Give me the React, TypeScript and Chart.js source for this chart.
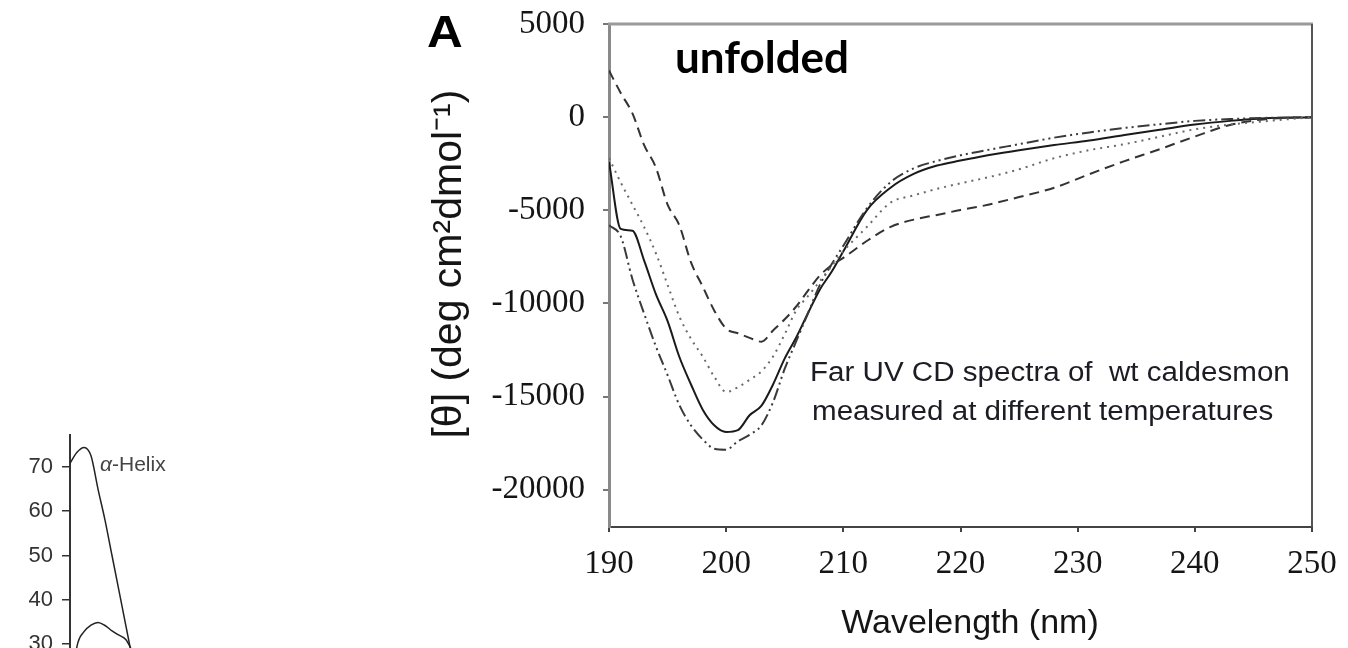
import React, { useEffect, useRef } from "react";
import { Chart, registerables } from "chart.js";

Chart.register(...registerables);

// ---------- Main chart (A) data ----------
const WAVELENGTHS = [
  190, 191, 192, 193, 194, 195, 196, 197, 198, 199, 200, 201, 202, 203, 204, 205, 206, 207, 208, 209, 210,
  212, 214, 216, 218, 220, 222, 225, 228, 231, 234, 237, 240, 243, 246, 250,
];

const THETA_DASHED = [
  2500, 1300, 200, -1500, -2700, -4700, -5800, -7800, -9100, -10400, -11350, -11600, -11850, -12050, -11450,
  -10850, -10150, -9300, -8500, -7950, -7550, -6650, -5900, -5500, -5250, -4980, -4750, -4290, -3790, -3060,
  -2360, -1720, -1040, -420, -110, 0,
];

const THETA_SOLID = [
  -2400, -6000, -6100, -7700, -9500, -10950, -12860, -14350, -15700, -16550, -16900, -16800, -16000, -15500,
  -14350, -12950, -11800, -10500, -9250, -8300, -7200, -5000, -3800, -3050, -2600, -2330, -2080, -1780, -1500,
  -1250, -960, -680, -400, -200, -60, 0,
];

const THETA_DOTTED = [
  -2200, -3500, -4700, -5900, -7300, -9000, -10700, -11900, -12850, -13950, -14750, -14500, -14100, -13650,
  -12850, -11650, -10350, -9600, -8800, -8000, -7200, -5900, -4600, -4200, -3850, -3550, -3280, -2800, -2200,
  -1770, -1450, -1050, -650, -400, -220, 0,
];

const THETA_DASHDOT = [
  -5800, -6400, -8700, -10550, -12300, -13850, -15450, -16550, -17300, -17800, -17850, -17400, -17050, -16550,
  -15300, -13500, -12000, -10500, -9000, -7900, -6900, -4900, -3500, -2750, -2350, -2050, -1800, -1450, -1100,
  -820, -580, -380, -200, -100, -40, 0,
];

const X_TICKS = [190, 200, 210, 220, 230, 240, 250];
const Y_TICKS = [5000, 0, -5000, -10000, -15000, -20000];
const Y_MIN = -22000;
const Y_MAX = 5000;

const PANEL_LABEL = "A";
const STATE_LABEL = "unfolded";
const NOTE_LINES = ["Far UV CD spectra of  wt caldesmon", "measured at different temperatures"];

// ---------- Left (partial) reference chart data ----------
const LEFT_WAVELENGTHS = [190, 191, 192, 193, 194, 195, 196, 197, 198, 199, 200];
const LEFT_HELIX = [70.8, 73.3, 74.4, 72.5, 65, 58, 50, 42, 34, 26, 18];
const LEFT_SECOND = [18, 29.5, 32.8, 34.3, 34.9, 34.2, 33, 32, 31, 28, 24];
const LEFT_Y_TICKS = [0, 10, 20, 30, 40, 50, 60, 70];

const toPoints = (xs: number[], ys: number[]) => xs.map((x, i) => ({ x, y: ys[i] }));

const clearScalePadding = (s: any) => {
  s.paddingTop = 0;
  s.paddingBottom = 0;
  s.paddingLeft = 0;
  s.paddingRight = 0;
};

export default function App() {
  const mainRef = useRef<HTMLCanvasElement | null>(null);
  const leftRef = useRef<HTMLCanvasElement | null>(null);

  useEffect(() => {
    const framePlugin = {
      id: "frame",
      afterDraw(chart: any) {
        const { ctx, chartArea } = chart;
        const { left, top, right, bottom } = chartArea;
        ctx.save();
        ctx.strokeStyle = "#9a9a9a";
        ctx.lineWidth = 3;
        ctx.beginPath();
        ctx.moveTo(left - 1, top);
        ctx.lineTo(right + 1, top);
        ctx.stroke();
        ctx.strokeStyle = "#555";
        ctx.lineWidth = 2;
        ctx.beginPath();
        ctx.moveTo(right, top);
        ctx.lineTo(right, bottom);
        ctx.stroke();
        ctx.restore();
      },
    };

    const textPlugin = {
      id: "texts",
      afterDraw(chart: any) {
        const { ctx } = chart;
        ctx.save();
        ctx.fillStyle = "#000";
        ctx.textBaseline = "alphabetic";
        ctx.textAlign = "left";
        ctx.save();
        ctx.translate(427, 47);
        ctx.scale(1.1, 1);
        ctx.font = "bold 45px 'Liberation Sans', Arial, sans-serif";
        ctx.fillText(PANEL_LABEL, 0, 0);
        ctx.restore();
        ctx.font = "bold 44px Lato, 'Liberation Sans', sans-serif";
        ctx.fillText(STATE_LABEL, 675, 73);
        ctx.fillStyle = "#1c1c24";
        ctx.font = "27px 'Liberation Sans', Arial, sans-serif";
        const baselines = [381, 420];
        const lefts = [810, 812];
        NOTE_LINES.forEach((line, i) => {
          ctx.save();
          ctx.translate(lefts[i], baselines[i]);
          ctx.scale(1.095, 1);
          ctx.fillText(line, 0, 0);
          ctx.restore();
        });
        ctx.restore();
      },
    };

    const main = new Chart(mainRef.current as HTMLCanvasElement, {
      type: "line",
      data: {
        datasets: [
          {
            label: "dotted",
            data: toPoints(WAVELENGTHS, THETA_DOTTED),
            borderColor: "#6a6a6a",
            borderWidth: 2,
            borderDash: [2, 5],
            cubicInterpolationMode: "monotone",
          },
          {
            label: "dashed",
            data: toPoints(WAVELENGTHS, THETA_DASHED),
            borderColor: "#333",
            borderWidth: 2,
            borderDash: [10, 6],
            cubicInterpolationMode: "monotone",
          },
          {
            label: "dash-dot",
            data: toPoints(WAVELENGTHS, THETA_DASHDOT),
            borderColor: "#3a3a3a",
            borderWidth: 2,
            borderDash: [12, 4, 2, 4, 2, 4],
            cubicInterpolationMode: "monotone",
          },
          {
            label: "solid",
            data: toPoints(WAVELENGTHS, THETA_SOLID),
            borderColor: "#1a1a1a",
            borderWidth: 2,
            cubicInterpolationMode: "monotone",
          },
        ],
      },
      options: {
        responsive: false,
        animation: false,
        layout: { padding: { left: 400, top: 24, right: 36, bottom: 0 } },
        plugins: { legend: { display: false }, tooltip: { enabled: false } },
        elements: { point: { radius: 0 } },
        scales: {
          x: {
            type: "linear",
            min: 190,
            max: 250,
            afterBuildTicks: (s: any) => {
              s.ticks = X_TICKS.map((v) => ({ value: v }));
            },
            afterFit: (s: any) => {
              s.height = 121;
              clearScalePadding(s);
            },
            grid: { drawOnChartArea: false, drawTicks: true, tickLength: 5, color: "#444", lineWidth: 2 },
            border: { display: true, color: "#444", width: 2 },
            ticks: {
              font: { family: "'Liberation Serif', 'Times New Roman', serif", size: 33 },
              color: "#151515",
              padding: 13,
              maxRotation: 0,
              autoSkip: false,
              callback: (v: any) => String(v),
            },
            title: {
              display: true,
              text: "  Wavelength (nm)",
              font: { family: "'Liberation Sans', Arial, sans-serif", size: 34 },
              color: "#151515",
              padding: { top: 0, bottom: 4 },
            },
          },
          y: {
            type: "linear",
            min: Y_MIN,
            max: Y_MAX,
            afterBuildTicks: (s: any) => {
              s.ticks = Y_TICKS.map((v) => ({ value: v }));
            },
            afterFit: (s: any) => {
              s.width = 209;
              clearScalePadding(s);
            },
            grid: { drawOnChartArea: false, drawTicks: true, tickLength: 6, color: "#777", lineWidth: 2 },
            border: { display: true, color: "#8a8a8a", width: 3 },
            ticks: {
              font: { family: "'Liberation Serif', 'Times New Roman', serif", size: 33 },
              color: "#151515",
              padding: 18,
              autoSkip: false,
              callback: (v: any) => String(v),
            },
            title: {
              display: true,
              text: "  [θ] (deg cm\u00B2dmol\u207B\u00B9)",
              font: { family: "'Liberation Sans', Arial, sans-serif", size: 41 },
              color: "#151515",
              padding: { top: 25, bottom: 0 },
            },
          },
        },
      },
      plugins: [framePlugin, textPlugin],
    } as any);

    const leftTextPlugin = {
      id: "leftTexts",
      afterDraw(chart: any) {
        const { ctx } = chart;
        ctx.save();
        ctx.fillStyle = "#444";
        ctx.textBaseline = "middle";
        ctx.textAlign = "left";
        ctx.font = "italic 21px 'Liberation Sans', Arial, sans-serif";
        const alpha = "\u03B1";
        ctx.fillText(alpha, 100, 465);
        const w = ctx.measureText(alpha).width;
        ctx.font = "21px 'Liberation Sans', Arial, sans-serif";
        ctx.fillText("-Helix", 100 + w, 465);
        ctx.restore();
      },
    };

    const left = new Chart(leftRef.current as HTMLCanvasElement, {
      type: "line",
      data: {
        datasets: [
          {
            label: "alpha-helix",
            data: toPoints(LEFT_WAVELENGTHS, LEFT_HELIX),
            borderColor: "#222",
            borderWidth: 1.5,
            cubicInterpolationMode: "monotone",
          },
          {
            label: "second",
            data: toPoints(LEFT_WAVELENGTHS, LEFT_SECOND),
            borderColor: "#222",
            borderWidth: 1.5,
            cubicInterpolationMode: "monotone",
          },
        ],
      },
      options: {
        responsive: false,
        animation: false,
        layout: { padding: { left: 0, top: 435, right: 10, bottom: 23 } },
        plugins: { legend: { display: false }, tooltip: { enabled: false } },
        elements: { point: { radius: 0 } },
        scales: {
          x: { type: "linear", min: 190, max: 250, display: false },
          y: {
            type: "linear",
            min: 0,
            max: 77.2,
            afterBuildTicks: (s: any) => {
              s.ticks = LEFT_Y_TICKS.map((v) => ({ value: v }));
            },
            afterFit: (s: any) => {
              s.width = 70;
              clearScalePadding(s);
            },
            grid: { drawOnChartArea: false, drawTicks: true, tickLength: 8, color: "#333", lineWidth: 1.5 },
            border: { display: true, color: "#333", width: 2 },
            ticks: {
              font: { family: "'Liberation Sans', Arial, sans-serif", size: 22 },
              color: "#333",
              padding: 9,
              autoSkip: false,
            },
          },
        },
      },
      plugins: [leftTextPlugin],
    } as any);

    return () => {
      main.destroy();
      left.destroy();
    };
  }, []);

  return (
    <div
      style={{
        position: "fixed",
        left: 0,
        top: 0,
        width: 1348,
        height: 648,
        overflow: "hidden",
        background: "#fff",
      }}
    >
      <canvas ref={leftRef} width={500} height={800} style={{ position: "absolute", left: 0, top: 0 }} />
      <canvas ref={mainRef} width={1348} height={648} style={{ position: "absolute", left: 0, top: 0 }} />
    </div>
  );
}
